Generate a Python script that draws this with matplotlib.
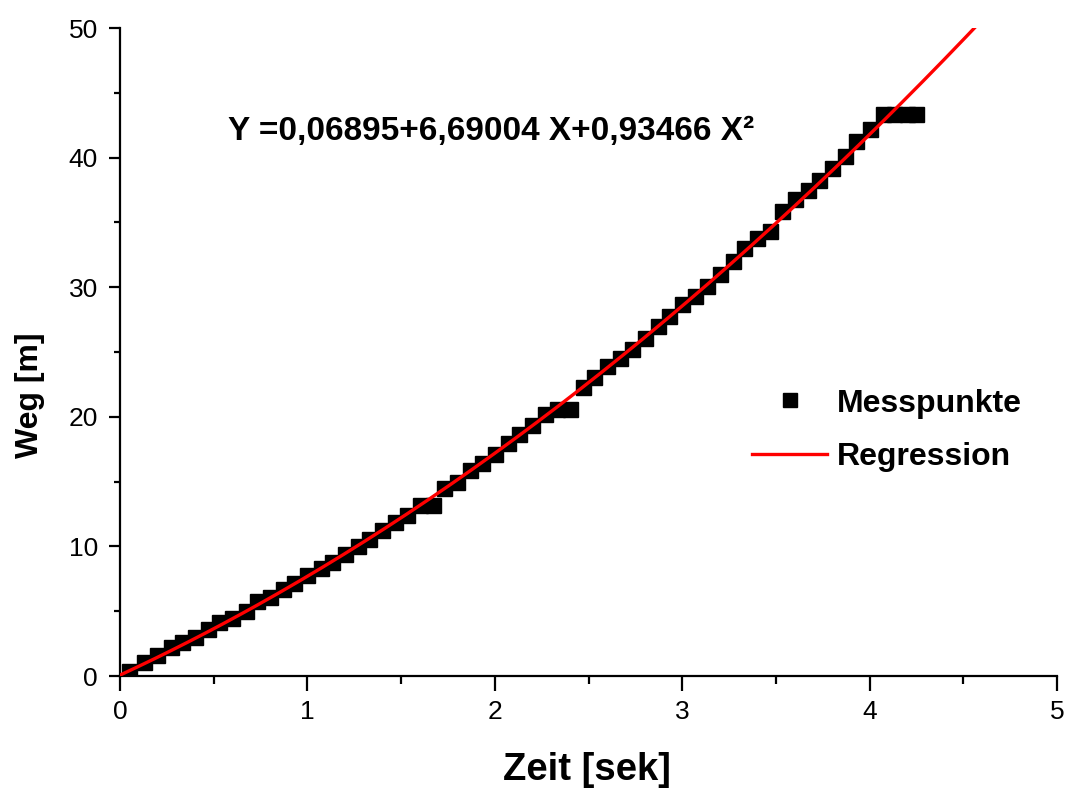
import numpy as np
import matplotlib
matplotlib.use('Agg')
import matplotlib.pyplot as plt

# Messpunkte (Zeit in s, Weg in m)
zeit = [0.05, 0.13, 0.2, 0.27, 0.33, 0.4, 0.47, 0.53, 0.6, 0.67, 0.73, 0.8, 0.87, 0.93, 1.0,
        1.07, 1.13, 1.2, 1.27, 1.33, 1.4, 1.47, 1.53, 1.6, 1.67, 1.73, 1.8, 1.87, 1.93, 2.0,
        2.07, 2.13, 2.2, 2.27, 2.33, 2.4, 2.47, 2.53, 2.6, 2.67, 2.73, 2.8, 2.87, 2.93, 3.0,
        3.07, 3.13, 3.2, 3.27, 3.33, 3.4, 3.47, 3.53, 3.6, 3.67, 3.73, 3.8, 3.87, 3.93, 4.0,
        4.07, 4.13, 4.2, 4.25]
weg = [0.4, 1.1, 1.6, 2.2, 2.6, 3.0, 3.6, 4.2, 4.5, 5.0, 5.8, 6.1, 6.7, 7.2, 7.8,
       8.3, 8.8, 9.4, 10.0, 10.6, 11.3, 11.9, 12.4, 13.2, 13.2, 14.5, 15.0, 15.9, 16.4, 17.1,
       18.0, 18.7, 19.4, 20.2, 20.6, 20.6, 22.3, 23.1, 23.9, 24.5, 25.2, 26.1, 27.0, 27.8, 28.7,
       29.3, 30.1, 31.0, 32.0, 33.0, 33.8, 34.3, 35.9, 36.8, 37.5, 38.3, 39.2, 40.1, 41.3, 42.2,
       43.4, 43.4, 43.4, 43.4]

# Regressionskoeffizienten aus der Gleichung im Bild
coef = [0.06895, 6.69004, 0.93466]
x_max_fit = 4.56

xticks = [0, 1, 2, 3, 4, 5]
yticks = [0, 10, 20, 30, 40, 50]

plt.rcParams['font.family'] = ['Liberation Sans', 'DejaVu Sans']

fig = plt.figure(figsize=(10.68, 7.93), dpi=100)
ax = fig.add_axes([120/1068, 1-676/793, (1057-120)/1068, (676-28)/793])

ax.plot(zeit, weg, 's', color='black', markersize=10.8, label='Messpunkte', zorder=2)
xf = np.linspace(0, x_max_fit, 200)
yf = coef[0] + coef[1]*xf + coef[2]*xf**2
ax.plot(xf, yf, '-', color='red', linewidth=2.4, label='Regression', zorder=3)

ax.set_xlim(0, 5)
ax.set_ylim(0, 50)
ax.set_xticks(xticks)
ax.set_yticks(yticks)
ax.set_xticks(np.arange(0.5, 5, 1), minor=True)
ax.set_yticks(np.arange(5, 50, 10), minor=True)
for s in ['top', 'right']:
    ax.spines[s].set_visible(False)
for s in ['left', 'bottom']:
    ax.spines[s].set_linewidth(1.6)
ax.tick_params(axis='x', which='major', direction='out', length=11, width=1.6, pad=6)
ax.tick_params(axis='x', which='minor', direction='out', length=6, width=1.6)
ax.tick_params(axis='y', which='major', direction='out', length=8, width=1.6, pad=8)
ax.tick_params(axis='y', which='minor', direction='out', length=4, width=1.6)
for lab in ax.get_xticklabels() + ax.get_yticklabels():
    lab.set_fontsize(19)

fig.text(0.2135, 1-140/793, 'Y =0,06895+6,69004 X+0,93466 X²', fontsize=24,
         fontweight='bold', va='baseline', ha='left')
fig.text(587/1068, 1-770/793, 'Zeit [sek]', fontsize=27.5, fontweight='bold',
         ha='center', va='center')
fig.text(30/1068, 1-395/793, 'Weg [m]', fontsize=23, fontweight='bold',
         ha='center', va='center', rotation=90)

leg = ax.legend(loc='center left', bbox_to_anchor=(752/1068, 1-430.5/793),
                bbox_transform=fig.transFigure, frameon=False, borderpad=0,
                borderaxespad=0, handlelength=2.35, handletextpad=0.3,
                labelspacing=0.75, markerscale=0.9,
                prop={'weight': 'bold', 'size': 23})

fig.savefig('out.png', dpi=100)
